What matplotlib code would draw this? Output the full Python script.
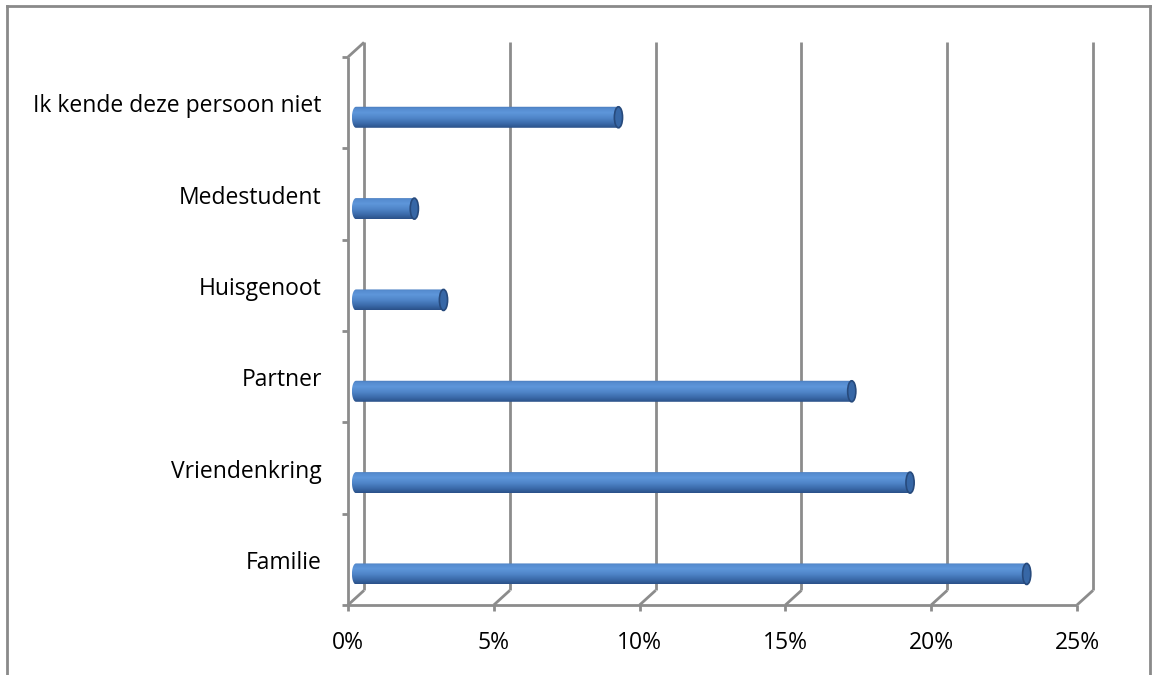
import numpy as np
import matplotlib.pyplot as plt
from matplotlib.path import Path
from matplotlib.patches import PathPatch, Ellipse
from matplotlib.colors import LinearSegmentedColormap

# Data (percent of respondents)
categories = ["Familie", "Vriendenkring", "Partner", "Huisgenoot",
              "Medestudent", "Ik kende deze persoon niet"]
values = [23, 19, 17, 3, 2, 9]
xticks = [0, 5, 10, 15, 20, 25]
xtick_labels = ["0%", "5%", "10%", "15%", "20%", "25%"]

# 3D look: depth offset of the back wall (data units)
DX, DY = 0.55, 0.16
GRID = "#8c8c8c"
LABEL_FONT = "Open Sans"

fig = plt.figure(figsize=(11.52, 6.75), dpi=100)
ax = fig.add_axes([348 / 1152, 1 - 605 / 675, 729 / 1152, 548 / 675])
ax.set_xlim(0, 25)
ax.set_ylim(-0.5, len(categories) - 0.5)
ax.axis("off")

y_lo, y_hi = -0.5, len(categories) - 0.5
line_kw = dict(color=GRID, lw=2, clip_on=False, solid_capstyle="butt", zorder=1)

# back wall gridlines and their floor diagonals
for t in xticks:
    ax.plot([t + DX, t + DX], [y_lo + DY, y_hi + DY], **line_kw)
    ax.plot([t, t + DX], [y_lo, y_lo + DY], **line_kw)
    # tick mark under the front edge
    ax.plot([t, t], [y_lo, y_lo - 0.07], **line_kw)

# front floor edge and left wall
ax.plot([0, 25], [y_lo, y_lo], **line_kw)
ax.plot([0, 0], [y_lo, y_hi], **line_kw)
ax.plot([0, DX], [y_hi, y_hi + DY], **line_kw)
for k in range(len(categories) + 1):
    ax.plot([-0.2, 0], [y_lo + k, y_lo + k], **line_kw)

# category labels and x tick labels
for i, c in enumerate(categories):
    ax.text(-0.9, i - 0.04, c, ha="right", va="center", fontsize=16.5,
            family=LABEL_FONT, color="black")
for t, lab in zip(xticks, xtick_labels):
    ax.text(t, y_lo - 0.42, lab, ha="center", va="center", fontsize=16.5,
            family=LABEL_FONT, color="black")

# cylinder bars
cmap = LinearSegmentedColormap.from_list(
    "cyl", [(0.0, "#2a5088"), (0.2, "#3a69a8"), (0.45, "#4f85c8"),
            (0.7, "#5e96da"), (0.88, "#568cd0"), (1.0, "#4779b8")])
grad = np.linspace(0, 1, 256).reshape(-1, 1)
half_h = 0.115
cap_w = 0.14
x0 = DX / 2

for i, v in enumerate(values):
    yc = i - DY
    x1 = v + x0
    th = np.linspace(np.pi / 2, 3 * np.pi / 2, 40)
    left = np.column_stack([x0 + cap_w * np.cos(th), yc + half_h * np.sin(th)])
    th2 = np.linspace(-np.pi / 2, np.pi / 2, 40)
    right = np.column_stack([x1 + cap_w * np.cos(th2), yc + half_h * np.sin(th2)])
    verts = np.vstack([[x1, yc + half_h], left, right, [x1, yc + half_h]])
    codes = [Path.MOVETO] + [Path.LINETO] * (len(verts) - 2) + [Path.CLOSEPOLY]
    patch = PathPatch(Path(verts, codes), facecolor="none", edgecolor="none", zorder=3)
    ax.add_patch(patch)
    im = ax.imshow(grad, cmap=cmap, aspect="auto", origin="lower",
                   extent=[x0 - cap_w, x1 + cap_w, yc - half_h, yc + half_h],
                   zorder=3, interpolation="bilinear")
    im.set_clip_path(patch)
    # end face of the cylinder
    ax.add_patch(Ellipse((x1, yc), 2 * cap_w, 2 * half_h, facecolor="#3767a6",
                         edgecolor="#274a7c", lw=1.2, zorder=4))

# outer chart border
fig.add_artist(plt.Line2D([7 / 1152, 7 / 1152], [0, 1 - 6 / 675], color="#8a8a8a", lw=2))
fig.add_artist(plt.Line2D([7 / 1152, 1150 / 1152], [1 - 6 / 675, 1 - 6 / 675], color="#8a8a8a", lw=2))
fig.add_artist(plt.Line2D([1150 / 1152, 1150 / 1152], [0, 1 - 6 / 675], color="#8a8a8a", lw=2))

fig.savefig("out.png", dpi=100, facecolor="white")
